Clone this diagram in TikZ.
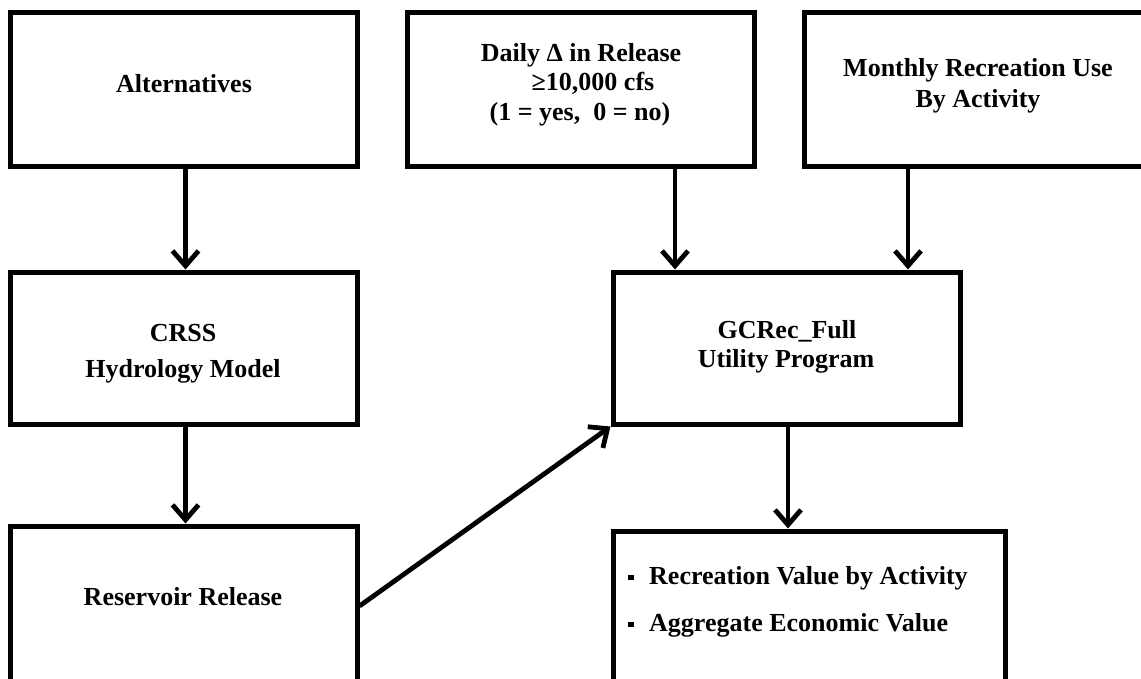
\documentclass[tikz,border=0pt]{standalone}
\usepackage{fontspec}
\setmainfont{Liberation Serif}
\usetikzlibrary{arrows.meta}
\tikzset{
  box/.style={draw=black, line width=5pt, rectangle, inner sep=0pt, fill=white},
  txt/.style={anchor=base, inner sep=0pt, font=\bfseries\fontsize{26}{30}\selectfont},
  txtl/.style={anchor=base west, inner sep=0pt, font=\bfseries\fontsize{26}{30}\selectfont},
  arr/.style={line width=4.8pt, -{Straight Barb[length=15pt,width=26pt]}},
}
\newcommand{\sqbullet}{\raisebox{4pt}{\rule{5.5pt}{5.5pt}}\hspace{15.5pt}}
\begin{document}
\begin{tikzpicture}[x=1pt,y=-1pt]
\useasboundingbox (0,0) rectangle (1141,678);
\fill[white] (0,0) rectangle (1141,678);
\clip (0,0) rectangle (1141,678);
% boxes
\node[box, minimum width=347pt, minimum height=154pt] (alt)   at (183.5,89) {};
\node[box, minimum width=347pt, minimum height=154pt] (daily) at (580.5,89) {};
\node[box, minimum width=348pt, minimum height=154pt] (month) at (978,89) {};
\node[box, minimum width=347pt, minimum height=152pt] (crss)  at (183.5,348) {};
\node[box, minimum width=347pt, minimum height=152pt] (gc)    at (786.5,348) {};
\node[box, minimum width=347pt, minimum height=160pt] (res)   at (183.5,606) {};
\node[box, minimum width=392pt, minimum height=160pt] (out)   at (809,611) {};
% texts
\node[txt] (altT) at (184,92) {Alternatives};
\node[txt] (dailyA) at (581,61) {Daily Δ in Release};
\node[txt] (dailyB) at (593,90) {≥10,000 cfs};
\node[txt] (dailyC) at (580,120) {(1 = yes,\ \ 0 = no)};
\node[txt] (monthA) at (978,76) {Monthly Recreation Use};
\node[txt] (monthB) at (978,107) {By Activity};
\node[txt] (crssA) at (183,341) {CRSS};
\node[txt] (crssB) at (183,377) {Hydrology Model};
\node[txt] (gcA) at (787,338) {GCRec\_Full};
\node[txt] (gcB) at (786,367) {Utility Program};
\node[txt] (resT) at (183,605) {Reservoir Release};
\node[txtl] (outA) at (628,584) {\sqbullet Recreation Value by Activity};
\node[txtl] (outB) at (628,631) {\sqbullet Aggregate Economic Value};
% connectors
\draw[arr] ([xshift=2pt]alt.south) -- ([xshift=2pt]crss.north);
\draw[arr] ([xshift=2pt]crss.south) -- ([xshift=2pt]res.north);
\draw[arr] ([xshift=94.5pt]daily.south) -- ([xshift=-111.5pt]gc.north);
\draw[arr] ([xshift=-70pt]month.south) -- ([xshift=121.5pt]gc.north);
\draw[arr] ([xshift=1.5pt]gc.south) -- ([xshift=-21pt]out.north);
\draw[arr] (res.east) -- (gc.south west);
\end{tikzpicture}
\end{document}
